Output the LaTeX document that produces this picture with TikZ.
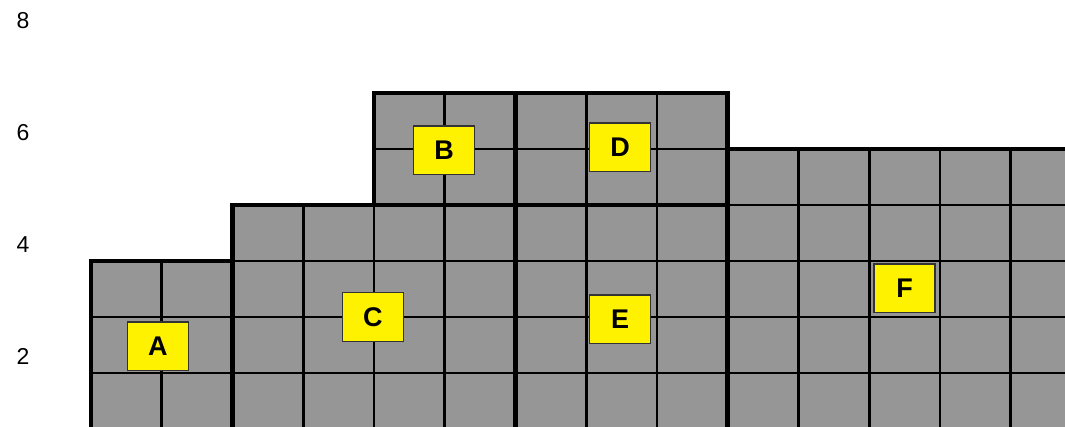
\documentclass[tikz,border=0pt]{standalone}
\usepackage{fontspec}
\setmainfont{Liberation Sans}
\definecolor{cellgray}{RGB}{150,150,150}

\begin{document}
\begin{tikzpicture}[x=70.75pt, y=56pt,
		blockfill/.style={fill=cellgray},
		cellline/.style={line width=2.6pt, black, step={(1,1)}},
		blockedge/.style={line width=4.6pt, black},
		tagbox/.style={draw=black!80, line width=1.4pt, fill=yellow, minimum width=61pt, minimum height=48.5pt, inner sep=0pt, font=\bfseries\fontsize{27}{30}\selectfont},
		axisnum/.style={font=\fontsize{23}{28}\selectfont}]
		\useasboundingbox (-1.2862,0.0357) rectangle (13.7668,7.6607);
		\clip (-1.2862,0.0357) rectangle (13.7668,7.6607);
		% axis numbers on the left
		\node[axisnum] (n8) at (-0.96,7.30) {8};
		\node[axisnum] (n6) at (-0.96,5.30) {6};
		\node[axisnum] (n4) at (-0.96,3.30) {4};
		\node[axisnum] (n2) at (-0.96,1.29) {2};
		% blocks: grey cells, thin cell lines, thick outline (bottom runs off the page)
		\fill[blockfill] (0,-0.2) rectangle (2,3);
		\fill[blockfill] (2,-0.2) rectangle (6,4);
		\fill[blockfill] (4,4) rectangle (6,6);
		\fill[blockfill] (6,4) rectangle (9,6);
		\fill[blockfill] (6,-0.2) rectangle (9,4);
		\fill[blockfill] (9,-0.2) rectangle (14,5);
		\draw[cellline] (0,-0.2) grid (2,3);
		\draw[cellline] (2,-0.2) grid (6,4);
		\draw[cellline] (4,4) grid (6,6);
		\draw[cellline] (6,4) grid (9,6);
		\draw[cellline] (6,-0.2) grid (9,4);
		\draw[cellline] (9,-0.2) grid (14,5);
		\draw[blockedge] (0,-0.2) rectangle (2,3);
		\draw[blockedge] (2,-0.2) rectangle (6,4);
		\draw[blockedge] (4,4) rectangle (6,6);
		\draw[blockedge] (6,4) rectangle (9,6);
		\draw[blockedge] (6,-0.2) rectangle (9,4);
		\draw[blockedge] (9,-0.2) rectangle (14,5);
		% yellow tags
		\node[tagbox] (A) at (0.945,1.48) {A};
		\node[tagbox] (B) at (4.99,4.98) {B};
		\node[tagbox] (C) at (3.985,2.0) {C};
		\node[tagbox] (D) at (7.48,5.03) {D};
		\node[tagbox] (E) at (7.48,1.96) {E};
		\node[tagbox] (F) at (11.5,2.51) {F};
	\end{tikzpicture}
\end{document}
